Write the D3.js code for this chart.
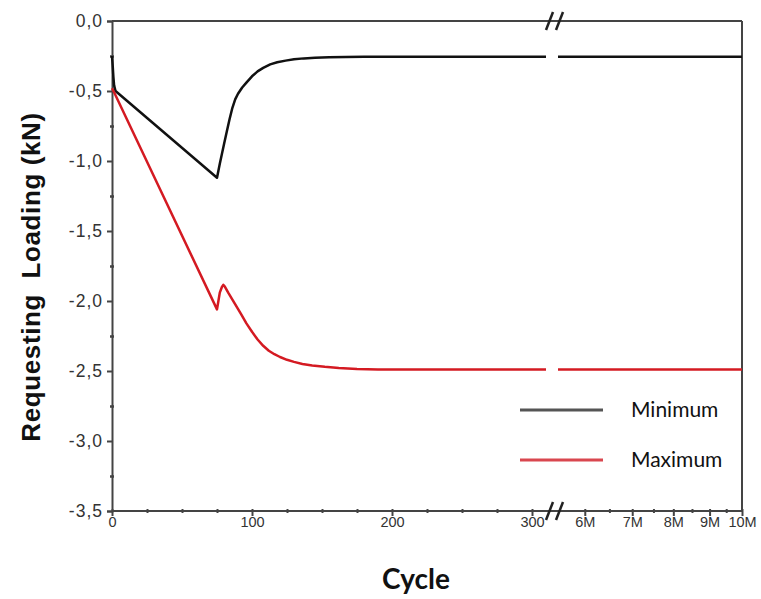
<!DOCTYPE html>
<html><head><meta charset="utf-8">
<script src="https://cdn.jsdelivr.net/npm/d3@7"></script>
<style>body{margin:0;background:#fff}svg{display:block}</style>
</head><body>
<svg id="c" width="761" height="599"></svg>
<script>
// ---- data ----
const minCycles = [0, 0.5, 1, 1.5, 2.5, 75, 76, 77, 78.5, 80, 82, 84, 86, 88, 90, 93, 96, 100, 104, 108, 113, 118, 124, 130, 137, 145, 155, 167, 180, 200, 310, 5.5e6, 1e7];
const minValues = [-0.25, -0.32, -0.40, -0.46, -0.50, -1.12, -1.07, -1.02, -0.95, -0.88, -0.79, -0.70, -0.62, -0.56, -0.52, -0.475, -0.44, -0.395, -0.36, -0.335, -0.31, -0.295, -0.283, -0.274, -0.267, -0.262, -0.259, -0.257, -0.256, -0.255, -0.255, -0.255, -0.255];
const maxCycles = [0, 2, 75, 76, 77, 78.5, 79.5, 80.5, 83, 86, 89, 92, 96, 100, 104, 108, 112, 116, 120, 125, 130, 136, 143, 152, 162, 175, 190, 210, 310, 5.5e6, 1e7];
const maxValues = [-0.48, -0.52, -2.06, -2.0, -1.94, -1.90, -1.885, -1.895, -1.94, -1.99, -2.04, -2.09, -2.16, -2.22, -2.275, -2.32, -2.355, -2.38, -2.40, -2.42, -2.435, -2.45, -2.46, -2.47, -2.478, -2.485, -2.489, -2.49, -2.49, -2.49, -2.49];
const seriesNames = ["Minimum", "Maximum"];
const yTicks = [0, -0.5, -1.0, -1.5, -2.0, -2.5, -3.0, -3.5];
const yMinorTicks = [-0.25, -0.75, -1.25, -1.75, -2.25, -2.75, -3.25];
const xLinTicks = [0, 100, 200, 300];
const xLinMinor = [25, 50, 75, 125, 150, 175, 225, 250, 275];
const xLogTicks = [6e6, 7e6, 8e6, 9e6, 1e7];
const xLogTickLabels = ["6M", "7M", "8M", "9M", "10M"];
const xLogMinor = [6.5e6, 7.5e6, 8.5e6, 9.5e6];
const breakAt = 310;

const svg = d3.select("#c");
const L = 112, R = 742, T = 21, B = 511;
const y = d3.scaleLinear().domain([-3.5, 0]).range([B, T]);
const xLin = d3.scaleLinear().domain([0, breakAt]).range([L, 546]);
const xLog = d3.scaleLog().domain([5.5e6, 1e7]).range([558, R]);
const xf = c => c <= breakAt ? xLin(c) : xLog(c);

const axisCol = "#444";

// frame: top and right
svg.append("line").attr("x1", L).attr("x2", R).attr("y1", T).attr("y2", T).attr("stroke", axisCol).attr("stroke-width", 2);
svg.append("line").attr("x1", R).attr("x2", R).attr("y1", T).attr("y2", B).attr("stroke", axisCol).attr("stroke-width", 2);

// y axis
const yAx = svg.append("g").attr("transform", `translate(${L},0)`)
  .call(d3.axisLeft(y).tickValues(yTicks).tickSize(5).tickPadding(4).tickFormat(d => d3.format(".1f")(d).replace(".", ",").replace("−", "-")));
yAx.select(".domain").attr("stroke", axisCol).attr("stroke-width", 2);
yAx.selectAll(".tick line").attr("stroke", axisCol).attr("stroke-width", 2);
yAx.selectAll("text").attr("font-family", "Liberation Sans, Arial, sans-serif").attr("font-size", 17.5).attr("letter-spacing", 1).attr("fill", "#333");
const yMin = svg.append("g").attr("transform", `translate(${L + 2},0)`)
  .call(d3.axisLeft(y).tickValues(yMinorTicks).tickSize(4).tickFormat(""));
yMin.select(".domain").remove();
yMin.selectAll(".tick line").attr("stroke", axisCol).attr("stroke-width", 2.5);

// x axis
svg.append("line").attr("x1", L).attr("x2", R).attr("y1", B).attr("y2", B).attr("stroke", axisCol).attr("stroke-width", 2);
function styleX(g) {
  g.select(".domain").remove();
  g.selectAll(".tick line").attr("stroke", axisCol).attr("stroke-width", 2);
  g.selectAll("text").attr("font-family", "Liberation Sans, Arial, sans-serif").attr("font-size", 14.5).attr("fill", "#333");
}
svg.append("g").attr("transform", `translate(0,${B - 2})`)
  .call(d3.axisBottom(xLin).tickValues(xLinTicks).tickSize(7).tickPadding(1)).call(styleX);
svg.append("g").attr("transform", `translate(0,${B - 2})`)
  .call(d3.axisBottom(xLog).tickValues(xLogTicks).tickSize(7).tickPadding(1).tickFormat((d, i) => xLogTickLabels[i])).call(styleX);
svg.append("g").attr("transform", `translate(0,${B - 2})`)
  .call(d3.axisBottom(xLin).tickValues(xLinMinor).tickSize(4).tickFormat("")).call(styleX);
svg.append("g").attr("transform", `translate(0,${B - 2})`)
  .call(d3.axisBottom(xLog).tickValues(xLogMinor).tickSize(4).tickFormat("")).call(styleX);

// break marks
[T, B].forEach(yy => {
  [0, 10].forEach(dx => {
    svg.append("line").attr("x1", 546 + dx).attr("y1", yy + 9).attr("x2", 553 + dx).attr("y2", yy - 9)
      .attr("stroke", "#222").attr("stroke-width", 2.5);
  });
});

// series
const mk = (cs, vs) => cs.map((c, i) => [c, vs[i]]);
const series = [
  { name: seriesNames[0], pts: mk(minCycles, minValues), color: "#111", legColor: "#555" },
  { name: seriesNames[1], pts: mk(maxCycles, maxValues), color: "#d41a22", legColor: "#d9474f" }
];
const line = d3.line().x(d => xf(d[0])).y(d => y(d[1])).curve(d3.curveLinear);
series.forEach(s => {
  const a = s.pts.filter(p => p[0] <= breakAt), b = s.pts.filter(p => p[0] > breakAt);
  [a, b].forEach(seg => {
    svg.append("path").datum(seg).attr("d", line).attr("fill", "none")
      .attr("stroke", s.color).attr("stroke-width", 2.5).attr("stroke-linejoin", "round");
  });
});

// legend
series.forEach((s, i) => {
  const yy = 410 + i * 50;
  svg.append("line").attr("x1", 520).attr("x2", 603).attr("y1", yy).attr("y2", yy)
    .attr("stroke", s.legColor).attr("stroke-width", 3);
  svg.append("text").attr("x", 631).attr("y", yy + 7).text(s.name)
    .attr("font-family", "Lato, sans-serif").attr("font-size", 21).attr("fill", "#111");
});

// axis titles
svg.append("text").attr("x", 416).attr("y", 589).attr("text-anchor", "middle").text("Cycle")
  .attr("font-family", "Lato, sans-serif").attr("font-weight", "bold").attr("font-size", 28).attr("fill", "#111");
svg.append("text").attr("transform", "translate(40,277) rotate(-90)").attr("text-anchor", "middle")
  .attr("xml:space", "preserve").style("white-space", "pre")
  .text("Requesting  Loading (kN)")
  .attr("font-family", "Liberation Sans, Arial, sans-serif").attr("font-weight", "bold").attr("font-size", 26).attr("letter-spacing", 0.6).attr("fill", "#111");
</script>
</body></html>
